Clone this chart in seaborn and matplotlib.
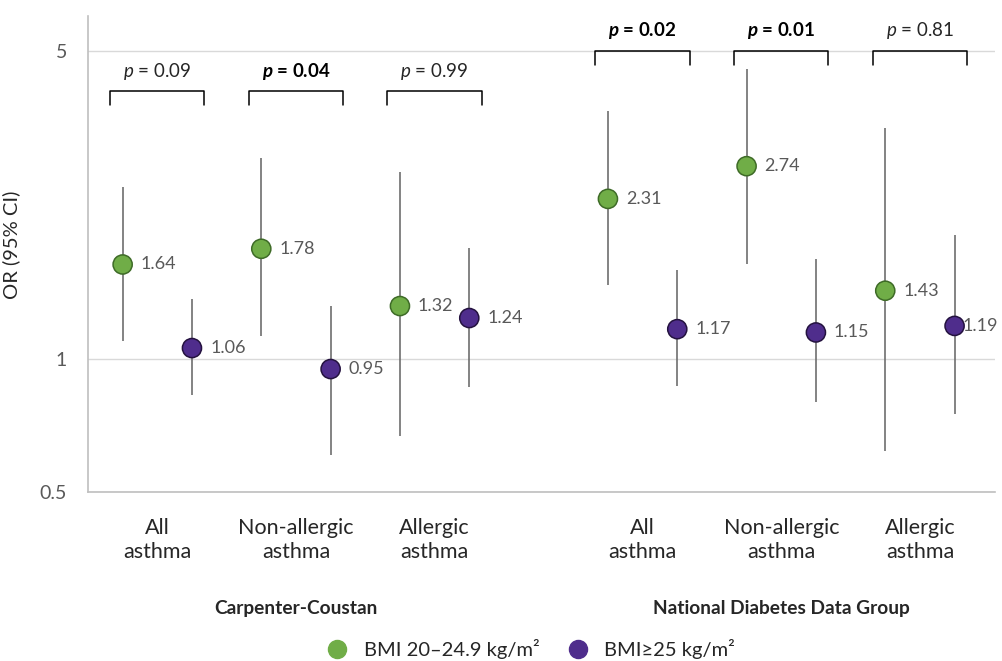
import pandas as pd
import seaborn as sns
import matplotlib.pyplot as plt
from matplotlib.lines import Line2D

# Data
groups = ["Carpenter-Coustan"] * 3 + ["National Diabetes Data Group"] * 3
subtypes = ["All\nasthma", "Non-allergic\nasthma", "Allergic\nasthma"] * 2

or_normal = [1.64, 1.78, 1.32, 2.31, 2.74, 1.43]
lo_normal = [1.10, 1.13, 0.67, 1.47, 1.64, 0.62]
hi_normal = [2.46, 2.86, 2.66, 3.65, 4.55, 3.34]

or_over = [1.06, 0.95, 1.24, 1.17, 1.15, 1.19]
lo_over = [0.83, 0.605, 0.865, 0.87, 0.80, 0.75]
hi_over = [1.37, 1.32, 1.79, 1.59, 1.69, 1.91]

p_values = ["0.09", "0.04", "0.99", "0.02", "0.01", "0.81"]
p_bold = [False, True, False, True, True, False]

bmi_labels = ["BMI 20\u201324.9 kg/m\u00b2", "BMI\u226525 kg/m\u00b2"]
colors = {bmi_labels[0]: "#70AD47", bmi_labels[1]: "#4F2D8C"}
edges = {bmi_labels[0]: "#3E6B27", bmi_labels[1]: "#24123F"}

# category centres, with a gap between the two criteria
centres = [0, 1, 2, 3.5, 4.5, 5.5]
offset = 0.25

rows = []
for i in range(6):
    rows.append(dict(x=centres[i] - offset, OR=or_normal[i], lo=lo_normal[i],
                     hi=hi_normal[i], BMI=bmi_labels[0], idx=i))
    rows.append(dict(x=centres[i] + offset, OR=or_over[i], lo=lo_over[i],
                     hi=hi_over[i], BMI=bmi_labels[1], idx=i))
df = pd.DataFrame(rows)

sns.set_style("white")
plt.rcParams["font.family"] = ["Lato", "DejaVu Sans"]
plt.rcParams["mathtext.fontset"] = "custom"
plt.rcParams["mathtext.it"] = "Lato:italic"
plt.rcParams["mathtext.rm"] = "Lato"
plt.rcParams["mathtext.bf"] = "Lato:bold"
plt.rcParams["mathtext.bfit"] = "Lato:bold:italic"

fig = plt.figure(figsize=(10.02, 6.61), dpi=100)
ax = fig.add_axes([0.0878, 0.2557, 0.905, 0.72])

# confidence intervals
ax.vlines(df["x"], df["lo"], df["hi"], color="#6E6E6E", lw=1.2, zorder=1)

sns.scatterplot(data=df, x="x", y="OR", hue="BMI", palette=colors, s=190,
                edgecolor=[edges[b] for b in df["BMI"]], linewidth=1.1,
                legend=False, zorder=3, ax=ax)

# value labels
for _, r in df.iterrows():
    dx = 5.5 if r["x"] > 5.6 else 13
    ax.annotate(f"{r['OR']:.2f}", (r["x"], r["OR"]), xytext=(dx, 0),
                textcoords="offset points", va="center", ha="left",
                fontsize=13, color="#595959", annotation_clip=False)

ax.set_yscale("log")
ax.set_ylim(0.5, 6.0)
ax.set_xlim(-0.5, 6.04)
ax.set_yticks([0.5, 1, 5])
ax.set_yticklabels(["0.5", "1", "5"])
ax.minorticks_off()
ax.yaxis.grid(True, color="#D9D9D9", lw=1)
ax.set_xticks(centres)
ax.set_xticklabels(subtypes, linespacing=1.25)
ax.tick_params(axis="x", length=0, pad=19, labelsize=15.5, colors="#262626")
ax.tick_params(axis="y", length=0, pad=15, labelsize=14, colors="#595959")
ax.set_xlabel("")
ax.set_ylabel("OR (95% CI)", fontsize=14.5, color="#262626")
ax.yaxis.set_label_coords(-0.075, 0.52)

for side in ["top", "right"]:
    ax.spines[side].set_visible(False)
for side in ["left", "bottom"]:
    ax.spines[side].set_color("#BFBFBF")
    ax.spines[side].set_linewidth(1.2)

# p-value brackets
for i in range(6):
    if groups[i] == "Carpenter-Coustan":
        top, bot, ty = 4.06, 3.78, 4.5
    else:
        top, bot, ty = 5.0, 4.65, 5.55
    xl, xr = centres[i] - 0.34, centres[i] + 0.34
    ax.plot([xl, xl, xr, xr], [bot, top, top, bot], color="black", lw=1.1,
            clip_on=False, zorder=2)
    if p_bold[i]:
        lab = r"$\mathbfit{p}$ = " + p_values[i]
        ax.text(centres[i], ty, lab, ha="center", va="center", fontsize=13.5,
                fontweight="bold", color="black")
    else:
        lab = r"$\mathit{p}$ = " + p_values[i]
        ax.text(centres[i], ty, lab, ha="center", va="center", fontsize=13.5,
                color="#262626")

# group titles
for name, c in [("Carpenter-Coustan", 1), ("National Diabetes Data Group", 4.5)]:
    xf = ax.transData.transform((c, 1))[0] / fig.bbox.width
    fig.text(xf, 0.08, name, ha="center", va="center", fontsize=13.8,
             fontweight="bold", color="#262626")

handles = [Line2D([], [], marker="o", ls="", markersize=13,
                  markerfacecolor=colors[b], markeredgecolor=colors[b])
           for b in bmi_labels]
fig.legend(handles, bmi_labels, loc="center", bbox_to_anchor=(0.525, 0.018),
           ncol=2, frameon=False, fontsize=14.5, handletextpad=0.3,
           columnspacing=0.9, labelcolor="#262626")

fig.savefig("out.png", dpi=100)
